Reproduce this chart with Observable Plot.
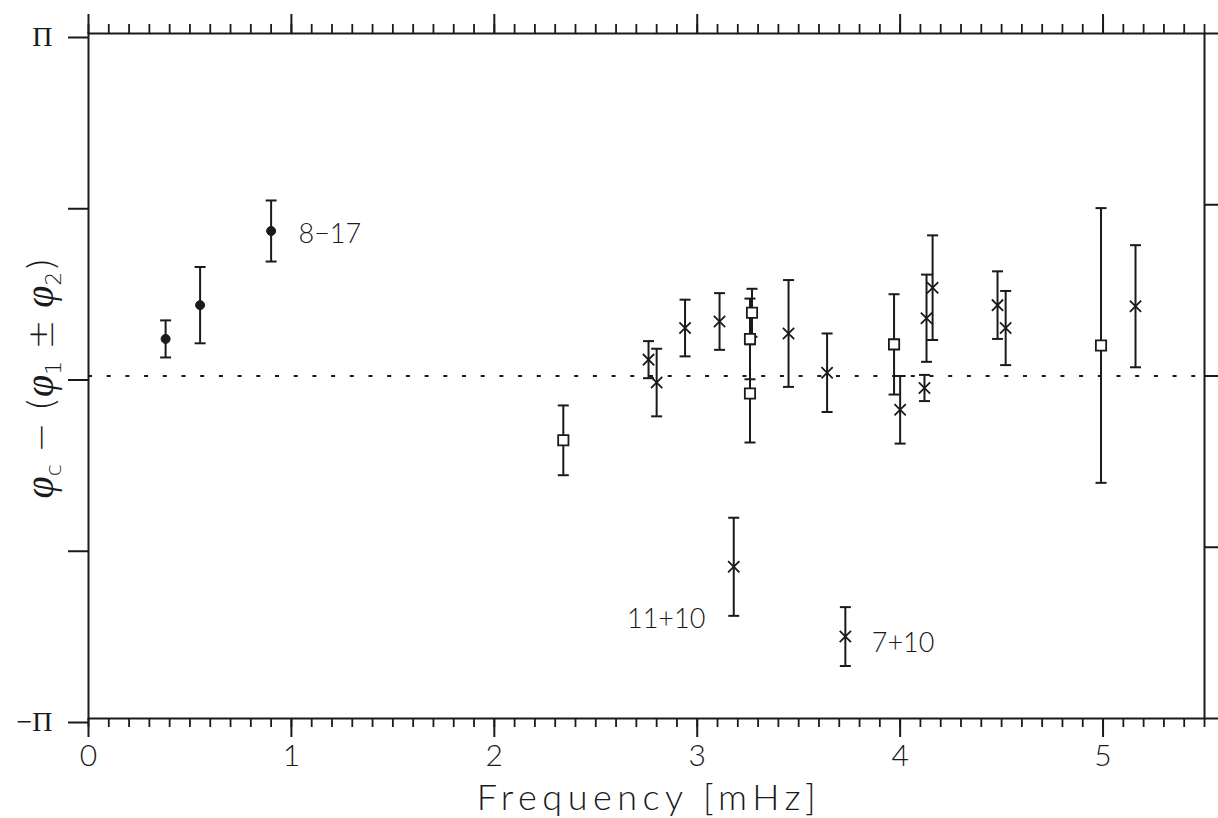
<!DOCTYPE html>
<html>
<head>
<meta charset="utf-8">
<script src="https://cdn.jsdelivr.net/npm/d3@7"></script>
<script src="https://cdn.jsdelivr.net/npm/@observablehq/plot@0.6"></script>
<style>
  html, body { margin: 0; padding: 0; background: #fff; }
  #chart svg { display: block; }
</style>
</head>
<body>
<div id="chart"></div>
<script>
const PI = Math.PI;

// Filled circles
const circleX = [0.38, 0.55, 0.90];
const circleY = [0.34, 0.65, 1.33];
const circleErr = [0.17, 0.35, 0.28];

// Open squares
const squareX = [2.34, 3.27, 3.26, 3.26, 3.97, 4.99];
const squareY = [-0.59, 0.58, 0.34, -0.16, 0.29, 0.28];
const squareErr = [0.32, 0.22, 0.37, 0.45, 0.46, 1.26];

// Crosses
const crossX = [2.76, 2.80, 2.94, 3.11, 3.45, 3.64, 4.00, 4.13, 4.12, 4.16, 4.48, 4.52, 5.16, 3.18, 3.73];
const crossY = [0.15, -0.06, 0.44, 0.50, 0.39, 0.03, -0.31, 0.53, -0.11, 0.81, 0.65, 0.44, 0.64, -1.75, -2.39];
const crossErr = [0.17, 0.31, 0.26, 0.26, 0.49, 0.36, 0.31, 0.40, 0.12, 0.48, 0.31, 0.34, 0.56, 0.45, 0.27];

// Annotations
const annText = ["8\u221217", "11+10", "7+10"];
const annX = [1.035, 3.04, 3.86];
const annY = [1.30, -2.23, -2.45];
const annAnchor = ["start", "end", "start"];

// Axis ticks
const xMajorTicks = [0, 1, 2, 3, 4, 5];
const xMinorTicks = d3.range(0, 56).map(i => i / 10);
const yTicks = [-PI, -PI / 2, 0, PI / 2, PI];
const yTickLabels = ["\u2212\u03A0", "", "", "", "\u03A0"];
const xLabel = "Frequency [mHz]";

const toRows = (xs, ys, es) => xs.map((x, i) => ({x, y: ys[i], lo: ys[i] - es[i], hi: ys[i] + es[i]}));
const circles = toRows(circleX, circleY, circleErr);
const squares = toRows(squareX, squareY, squareErr);
const crosses = toRows(crossX, crossY, crossErr);
const allPts = [...circles, ...squares, ...crosses];
const ann = annText.map((t, i) => ({t, x: annX[i], y: annY[i], a: annAnchor[i]}));

const capSymbol = { draw(ctx) { ctx.moveTo(-5.5, 0); ctx.lineTo(5.5, 0); } };

const sans = "Lato, 'DejaVu Sans', sans-serif";
const ink = "#1a1a1a";

const plot = Plot.plot({
  width: 1218,
  height: 818,
  marginLeft: 88,
  marginRight: 14,
  marginTop: 33,
  marginBottom: 100,
  x: { domain: [0, 5.5] },
  y: { domain: [-PI, PI] },
  style: { fontFamily: sans, color: ink, background: "#fff" },
  marks: [
    Plot.ruleY([0], { stroke: ink, strokeWidth: 2, strokeDasharray: "4 14.7" }),
    Plot.frame({ stroke: ink, strokeWidth: 2 }),
    // bottom axis
    Plot.axisX({ anchor: "bottom", ticks: xMinorTicks, tickSize: 9, tickFormat: () => "", label: null, strokeWidth: 1.8 }),
    Plot.axisX({ anchor: "bottom", ticks: xMajorTicks, tickSize: 19, tickPadding: 7, tickFormat: d => String(d),
      fontSize: 30, fontWeight: 300, label: null, strokeWidth: 2 }),
    // top axis
    Plot.axisX({ anchor: "top", ticks: xMinorTicks, tickSize: 10, tickFormat: () => "", label: null, strokeWidth: 1.8 }),
    Plot.axisX({ anchor: "top", ticks: xMajorTicks, tickSize: 20, tickFormat: () => "", label: null, strokeWidth: 2 }),
    // left axis
    Plot.axisY({ anchor: "left", ticks: yTicks, tickSize: 20, tickPadding: 16, tickFormat: (d, i) => yTickLabels[i],
      fontSize: 28, fontFamily: "'Liberation Serif', 'DejaVu Serif', serif", dy: 4, label: null, strokeWidth: 2 }),
    // right axis
    Plot.axisY({ anchor: "right", ticks: yTicks, tickSize: 16, tickFormat: () => "", label: null, strokeWidth: 2 }),
    // error bars
    Plot.ruleX(allPts, { x: "x", y1: "lo", y2: "hi", stroke: ink, strokeWidth: 2 }),
    Plot.dot(allPts, { x: "x", y: "lo", symbol: capSymbol, stroke: ink, strokeWidth: 2, fill: "none" }),
    Plot.dot(allPts, { x: "x", y: "hi", symbol: capSymbol, stroke: ink, strokeWidth: 2, fill: "none" }),
    // markers
    Plot.dot(circles, { x: "x", y: "y", r: 4.5, fill: ink, stroke: ink, strokeWidth: 1 }),
    Plot.dot(squares, { x: "x", y: "y", symbol: "square", r: 5.8, fill: "#fff", stroke: ink, strokeWidth: 1.8 }),
    Plot.dot(crosses, { x: "x", y: "y", symbol: "times", r: 5.2, stroke: ink, strokeWidth: 1.8 }),
    // annotations
    Plot.text(ann.filter(d => d.a === "start"), { x: "x", y: "y", text: "t", textAnchor: "start", fontSize: 27, fontWeight: 300, fill: ink }),
    Plot.text(ann.filter(d => d.a === "end"), { x: "x", y: "y", text: "t", textAnchor: "end", fontSize: 27, fontWeight: 300, fill: ink })
  ]
});

const svg = d3.select(plot);
svg.style("overflow", "visible");

// x label
svg.append("text")
  .attr("x", 649)
  .attr("y", 810)
  .attr("text-anchor", "middle")
  .attr("font-family", sans)
  .attr("font-size", 36)
  .attr("font-weight", 300)
  .attr("letter-spacing", 5.5)
  .attr("fill", ink)
  .text(xLabel);

// y label with subscripts
const yl = svg.append("text")
  .attr("transform", "translate(53,378) rotate(-90)")
  .attr("text-anchor", "middle")
  .attr("font-family", "'DejaVu Sans', sans-serif")
  .attr("font-size", 36)
  .attr("font-weight", 300)
  .attr("fill", ink);
const parts = [
  ["\u03C6", 0, 1], ["c", 1, 0], [" \u2212 (", 0, 0], ["\u03C6", 0, 1], ["1", 1, 0], [" \u00B1 ", 0, 0], ["\u03C6", 0, 1], ["2", 1, 0], [")", 0, 0]
];
let prevSub = 0;
parts.forEach(([t, sub, greek]) => {
  const ts = yl.append("tspan").text(t);
  if (sub) ts.attr("font-size", 22);
  if (greek) ts.attr("font-family", "'Liberation Serif', 'DejaVu Serif', serif").attr("font-style", "italic").attr("font-size", 40);
  const shift = (sub ? 8 : 0) - (prevSub ? 8 : 0);
  if (shift) ts.attr("dy", shift);
  prevSub = sub;
});

document.getElementById("chart").appendChild(plot);
</script>
</body>
</html>
